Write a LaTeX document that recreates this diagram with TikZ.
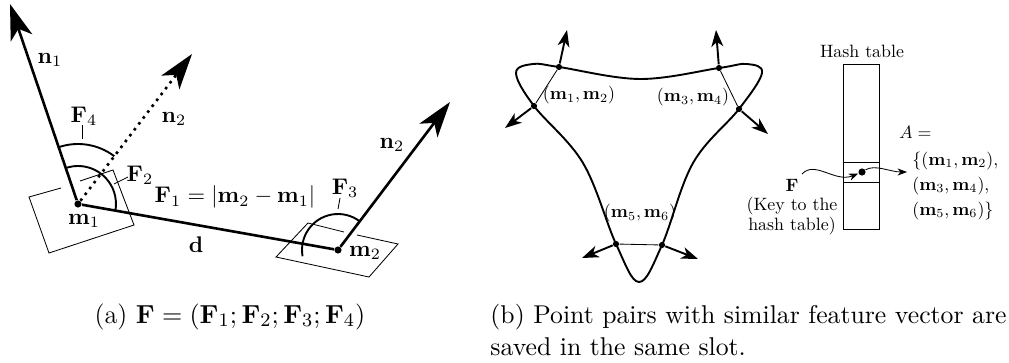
\documentclass[tikz,border=0pt]{standalone}
\usepackage{amsmath}
\usepackage{amssymb}
\usetikzlibrary{arrows.meta,calc}

\begin{document}
\begin{tikzpicture}[x=0.42pt, y=0.42pt,
  pt/.style={circle, fill=black, inner sep=0pt, minimum size=#1},
  bignormal/.style={line width=1.1pt, -{Stealth[length=15pt, width=9.5pt, inset=4pt]}},
  normal/.style={line width=0.8pt, -{Stealth[length=7pt, width=5pt, inset=2pt]}},
  angle/.style={line width=0.8pt},
  thinline/.style={line width=0.35pt},
  curve/.style={line width=0.8pt},
  keyline/.style={line width=0.35pt, -{Stealth[length=4pt, width=3pt]}},
  lbl/.style={inner sep=0pt, scale=0.95},
  small lbl/.style={inner sep=0pt, scale=0.75, font=\fontsize{10}{11.2}\selectfont},
  caption/.style={inner sep=0pt, font=\fontsize{#1}{13.4}\selectfont}]

  \useasboundingbox (0,0) rectangle (1009,-362);

  % (a) the two oriented points
  \node[pt=3pt] (m1) at (78,-204) {};
  \node[pt=3pt] (m2) at (338,-250) {};
  \coordinate (n1tip) at (10,-4);
  \coordinate (n2dot) at (192,-54);
  \coordinate (n2tip) at (450,-102);

  \draw[thinline] (61,-188) -- (29,-197) -- (49,-253) -- (134,-225) -- (113,-170) -- (80,-181);
  \draw[thinline] (344,-232) -- (308,-223) -- (276,-257) -- (369,-277) -- (398,-244) -- (357,-235);

  \draw[bignormal] (m1) -- (n1tip);
  \draw[bignormal, dotted] (m1) -- (n2dot);
  \draw[bignormal] (m2) -- (n2tip);
  \draw[line width=1.1pt] (m1) -- (m2);

  \draw[angle] ($(m1.center)+(108.8:60)$) arc[start angle=108.8, end angle=52.8, radius=60];
  \draw[angle] ($(m1.center)+(108.8:38)$) arc[start angle=108.8, end angle=-10, radius=38];
  \draw[angle] ($(m2.center)+(190:36)$) arc[start angle=190, end angle=53, radius=36];

  \node[lbl] (n1lab) at (50,-60) {$\mathbf{n}_1$};
  \node[lbl] (n2dotlab) at (174,-119) {$\mathbf{n}_2$};
  \node[lbl] (n2lab) at (392,-145) {$\mathbf{n}_2$};
  \node[lbl] (F4lab) at (84,-116) {$\mathbf{F}_4$};
  \node[lbl] (F2lab) at (140,-175) {$\mathbf{F}_2$};
  \node[lbl] (F3lab) at (345,-188) {$\mathbf{F}_3$};
  \node[lbl] (F1lab) at (235,-197) {$\mathbf{F}_1 = |\mathbf{m}_2 - \mathbf{m}_1|$};
  \node[lbl] (dlab) at (196,-245) {$\mathbf{d}$};
  \node[lbl] (m1lab) at (84,-221) {$\mathbf{m}_1$};
  \node[lbl] (m2lab) at (365,-253) {$\mathbf{m}_2$};

  \coordinate (F4foot) at (82,-139);
  \coordinate (F2foot) at (114,-184);
  \coordinate (F3foot) at (338,-209);
  \draw[thinline] (82,-125) -- (F4foot);
  \draw[thinline] (128,-177) -- (F2foot);
  \draw[thinline] (340,-198) -- (F3foot);

  \node[caption=11, anchor=base] (capa) at (230,-323) {(a) $\mathbf{F} = (\mathbf{F}_1; \mathbf{F}_2; \mathbf{F}_3; \mathbf{F}_4)$};

  % (b) the model and its point pairs
  \node[pt=2.6pt] (p1) at (559,-67) {};
  \node[pt=2.6pt] (p2) at (534,-106) {};
  \node[pt=2.6pt] (p3) at (719,-68) {};
  \node[pt=2.6pt] (p4) at (739,-109) {};
  \node[pt=2.6pt] (p5) at (616,-244) {};
  \node[pt=2.6pt] (p6) at (662,-245) {};

  \draw[curve] plot[smooth cycle, tension=0.6] coordinates {(559,-67) (533,-64) (516,-73) (534,-106)
    (583,-163) (616,-244) (639,-282) (662,-245) (693,-163) (739,-109) (762,-73) (747,-64) (719,-68) (640,-79)};

  \draw[thinline] (p1) -- (p2);
  \draw[thinline] (p3) -- (p4);
  \draw[thinline] (p5) -- (p6);

  \coordinate (t1) at (567,-30);
  \coordinate (t2) at (505,-128);
  \coordinate (t3) at (716,-30);
  \coordinate (t4) at (768,-134);
  \coordinate (t5) at (582,-258);
  \coordinate (t6) at (698,-259);
  \foreach \i in {1,...,6}
    \draw[normal] (p\i) -- (t\i);

  \node[small lbl] (p12lab) at (579,-95) {$(\mathbf{m}_1, \mathbf{m}_2)$};
  \node[small lbl] (p34lab) at (693,-97) {$(\mathbf{m}_3, \mathbf{m}_4)$};
  \node[small lbl] (p56lab) at (640,-213) {$(\mathbf{m}_5, \mathbf{m}_6)$};

  % hash table
  \node[draw, line width=0.4pt, minimum width=15.1pt, minimum height=69.3pt, inner sep=0pt] (table) at (861,-146.5) {};
  \node[draw, line width=0.4pt, minimum width=15.1pt, minimum height=8.4pt, inner sep=0pt] (slot) at (861,-172) {};
  \node[pt=3pt] (slotdot) at (862,-172) {};
  \node[small lbl] (tablelab) at (862,-51) {Hash table};
  \node[small lbl] (keyF) at (792,-185) {$\mathbf{F}$};
  \node[small lbl, align=center] (keylab) at (792,-216) {(Key to the\\hash table)};
  \coordinate (keystart) at (802,-174);
  \coordinate (setend) at (907,-172);
  \draw[keyline] (keystart) .. controls (815,-160) and (835,-183) .. (slotdot);
  \draw[keyline] (slotdot) .. controls (875,-164) and (890,-172) .. (setend);

  \node[small lbl, anchor=base west] (Alab) at (899,-138) {$A =$};
  \node[small lbl, anchor=base west] (set1) at (912,-165) {$\{(\mathbf{m}_1, \mathbf{m}_2),$};
  \node[small lbl, anchor=base west] (set2) at (912,-190) {$(\mathbf{m}_3, \mathbf{m}_4),$};
  \node[small lbl, anchor=base west] (set3) at (912,-215) {$(\mathbf{m}_5, \mathbf{m}_6)\}$};

  \node[caption=10.8, anchor=base west, align=left] (capb) at (490,-355)
       {(b) Point pairs with similar feature vector are\\saved in the same slot.};
\end{tikzpicture}
\end{document}
